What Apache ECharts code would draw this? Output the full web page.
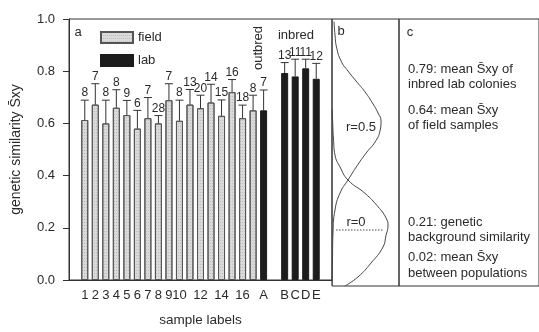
<!DOCTYPE html>
<html>
<head>
<meta charset="utf-8">
<script src="https://cdn.jsdelivr.net/npm/echarts@6/dist/echarts.min.js"></script>
<style>
html,body{margin:0;padding:0;background:#fff;}
#chart{width:539px;height:332px;}
</style>
</head>
<body>
<div id="chart"></div>
<script>
// ---- data ----
const categories = ['pad-l','1','2','3','4','5','6','7','8','9','10','11','12','13','14','15','16','17','A','gap','B','C','D','E','pad-r'];
const tickLabels = ['','1','2','3','4','5','6','7','8','9','10','','12','','14','','16','','A','','B','C','D','E',''];
const yTicks = [0.0, 0.2, 0.4, 0.6, 0.8, 1.0];

const fieldSamples = ['1','2','3','4','5','6','7','8','9','10','11','12','13','14','15','16','17'];
const fieldMeans = [0.613,0.672,0.600,0.660,0.632,0.580,0.620,0.600,0.689,0.610,0.672,0.658,0.680,0.629,0.720,0.620,0.650];
const fieldSD    = [0.076,0.080,0.089,0.069,0.056,0.070,0.079,0.030,0.063,0.079,0.058,0.050,0.070,0.061,0.048,0.050,0.058];
const fieldN     = [8,7,8,8,9,6,7,28,7,8,13,20,14,15,16,18,8];

const labSamples = ['A','B','C','D','E'];
const labMeans   = [0.650,0.793,0.780,0.811,0.771];
const labSD      = [0.078,0.040,0.066,0.035,0.059];
const labN       = [7,13,11,11,12];

// panel b: curves as [horizontal offset in px from panel edge, Sxy]
const curveR05 = [[2,0.99],[3,0.94],[4.5,0.895],[9,0.843],[16,0.805],[24,0.768],[33,0.727],[41,0.682],[46,0.648],[49,0.618],[48,0.581],[43,0.539],[35,0.502],[27,0.461],[16,0.397],[8,0.348],[3,0.285],[1,0.2],[0.5,0.1],[0.3,0.0]];
const curveR0  = [[0.3,0.66],[0.8,0.6],[1.5,0.55],[3,0.49],[8,0.446],[16,0.397],[33,0.347],[46,0.297],[54,0.255],[56,0.225],[54,0.19],[51,0.146],[39,0.086],[26,0.034],[13,0.0]];
const backgroundLine = [[4,0.21],[51,0.21]];

const panelCText = [
  ['0.79: mean S\u0304xy of', 69],
  ['inbred lab colonies', 84],
  ['0.64: mean S\u0304xy', 110],
  ['of field samples', 125],
  ['0.21: genetic', 222],
  ['background similarity', 237],
  ['0.02: mean S\u0304xy', 257],
  ['between populations', 273]
];

// ---- build ----
const FONT = '"Liberation Sans", Arial, sans-serif';
const TXT = '#2a2a2a';
const fieldData = categories.map(c => { const i = fieldSamples.indexOf(c); return i >= 0 ? fieldMeans[i] : null; });
const labData = categories.map(c => { const i = labSamples.indexOf(c); return i >= 0 ? labMeans[i] : null; });
const errData = [];
fieldSamples.forEach((c,i) => errData.push([categories.indexOf(c), fieldMeans[i], fieldSD[i], fieldN[i]]));
labSamples.forEach((c,i) => errData.push([categories.indexOf(c), labMeans[i], labSD[i], labN[i]]));

const chart = echarts.init(document.getElementById('chart'), null, {renderer:'canvas'});

const graphicTexts = panelCText.map(([t, y]) => ({
  type:'text', x:408, y:y, silent:true,
  style:{text:t, font:'13px ' + FONT, fill:TXT, align:'left', verticalAlign:'middle'}
}));
graphicTexts.push(
  {type:'text', x:78, y:32, style:{text:'a', font:'13px '+FONT, fill:TXT, align:'center', verticalAlign:'middle'}},
  {type:'text', x:341, y:31, style:{text:'b', font:'13px '+FONT, fill:TXT, align:'center', verticalAlign:'middle'}},
  {type:'text', x:410, y:32, style:{text:'c', font:'13px '+FONT, fill:TXT, align:'center', verticalAlign:'middle'}},
  {type:'text', x:258, y:48, rotation:Math.PI/2, style:{text:'outbred', font:'13px '+FONT, fill:TXT, align:'center', verticalAlign:'middle'}},
  {type:'text', x:296, y:35, style:{text:'inbred', font:'13px '+FONT, fill:TXT, align:'center', verticalAlign:'middle'}},
  {type:'text', x:361, y:127, style:{text:'r=0.5', font:'13px '+FONT, fill:TXT, align:'center', verticalAlign:'middle'}},
  {type:'text', x:356, y:222, style:{text:'r=0', font:'13px '+FONT, fill:TXT, align:'center', verticalAlign:'middle'}}
);

const option = {
  animation:false,
  backgroundColor:'#fff',
  textStyle:{fontFamily:FONT},
  grid:[
    {left:69, top:19, width:263, height:267, show:true, borderColor:'#333', borderWidth:1, backgroundColor:'transparent'},
    {left:332, top:19, width:67, height:267, show:true, borderColor:'#333', borderWidth:1, backgroundColor:'transparent'},
    {left:399, top:19, width:150, height:267, show:true, borderColor:'#333', borderWidth:1, backgroundColor:'transparent'}
  ],
  legend:{
    data:['field','lab'], orient:'vertical', left:95, top:26,
    itemWidth:32, itemHeight:11, itemGap:10,
    textStyle:{fontSize:13, color:TXT, fontFamily:FONT}, icon:'rect'
  },
  xAxis:[
    {type:'category', gridIndex:0, data:categories, boundaryGap:true,
     axisLine:{lineStyle:{color:'#333'}}, axisTick:{show:false},
     axisLabel:{interval:0, fontSize:13, color:TXT, margin:9, formatter:(v, idx) => tickLabels[idx]},
     name:'sample labels', nameLocation:'middle', nameGap:33,
     nameTextStyle:{fontSize:13.5, color:TXT, fontFamily:FONT}},
    {type:'value', gridIndex:1, min:0, max:67, show:false},
    {type:'value', gridIndex:2, min:0, max:1, show:false}
  ],
  yAxis:[
    {type:'value', gridIndex:0, min:0, max:1, interval:0.2,
     axisLine:{show:true, lineStyle:{color:'#333'}},
     axisTick:{show:true, inside:false, length:6, lineStyle:{color:'#333'}},
     splitLine:{show:false},
     axisLabel:{fontSize:13, color:TXT, margin:14, formatter:v => yTicks.find(t => Math.abs(t-v)<1e-9) !== undefined ? v.toFixed(1) : ''},
     name:'genetic similarity S\u0304xy', nameLocation:'middle', nameGap:46, nameRotate:90,
     nameTextStyle:{fontSize:14, color:TXT, fontFamily:FONT}},
    {type:'value', gridIndex:1, min:0, max:1, show:false},
    {type:'value', gridIndex:2, min:0, max:1, show:false}
  ],
  series:[
    {name:'field', type:'bar', xAxisIndex:0, yAxisIndex:0, data:fieldData, barWidth:7, barGap:'-100%',
     itemStyle:{color:'#dadada', borderColor:'#555', borderWidth:1,
       decal:{symbol:'rect', symbolSize:1, dashArrayX:[1,1], dashArrayY:[1,2], color:'rgba(0,0,0,0.12)'}}},
    {name:'lab', type:'bar', xAxisIndex:0, yAxisIndex:0, data:labData, barWidth:7, barGap:'-100%',
     itemStyle:{color:'#1c1c1c', borderColor:'#1c1c1c', borderWidth:1}},
    {name:'sd', type:'custom', xAxisIndex:0, yAxisIndex:0, data:errData, z:5,
     renderItem:(params, api) => {
       const x = api.value(0), m = api.value(1), s = api.value(2), n = api.value(3);
       const p0 = api.coord([x, m]); const p1 = api.coord([x, m + s]);
       return {type:'group', children:[
         {type:'line', shape:{x1:p0[0], y1:p0[1], x2:p1[0], y2:p1[1]}, style:{stroke:'#333', lineWidth:1}},
         {type:'line', shape:{x1:p1[0]-4, y1:p1[1], x2:p1[0]+4, y2:p1[1]}, style:{stroke:'#333', lineWidth:1}},
         {type:'text', x:p1[0], y:p1[1]-1, style:{text:String(n), font:'12px '+FONT, fill:TXT, align:'center', verticalAlign:'bottom'}}
       ]};
     }},
    {name:'r=0.5', type:'line', xAxisIndex:1, yAxisIndex:1, data:curveR05, smooth:0.5, showSymbol:false,
     lineStyle:{color:'#444', width:1}},
    {name:'r=0', type:'line', xAxisIndex:1, yAxisIndex:1, data:curveR0, smooth:0.5, showSymbol:false,
     lineStyle:{color:'#444', width:1}},
    {name:'background', type:'line', xAxisIndex:1, yAxisIndex:1, data:backgroundLine, showSymbol:false,
     lineStyle:{color:'#888', width:1.5, type:'dotted'}}
  ],
  graphic:graphicTexts
};
chart.setOption(option);
</script>
</body>
</html>
